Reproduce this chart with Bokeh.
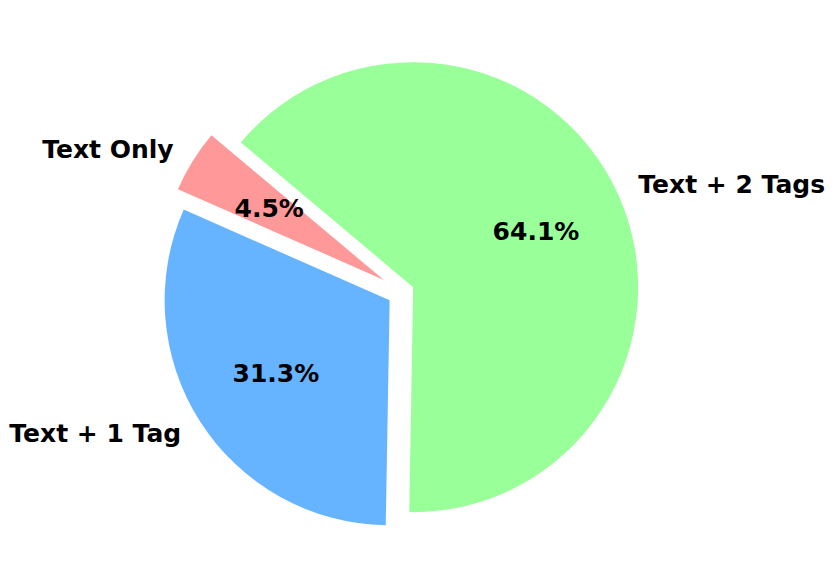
import numpy as np
from bokeh.plotting import figure
from bokeh.models import ColumnDataSource, Range1d
from bokeh.core.properties import value
from bokeh.embed import file_html
from bokeh.resources import INLINE

# --- data ---
labels = ["Text Only", "Text + 1 Tag", "Text + 2 Tags"]
percents = [4.5, 31.3, 64.1]
colors = ["#ff9999", "#66b3ff", "#99ff99"]
explode = [0.1, 0.07, 0.05]
start_deg = 140.0

vals = np.array(percents, dtype=float)
frac = vals / vals.sum()
ends = np.deg2rad(start_deg) + 2 * np.pi * np.cumsum(frac)
starts = np.concatenate([[np.deg2rad(start_deg)], ends[:-1]])
mids = (starts + ends) / 2
ex = np.array(explode)
cx = ex * np.cos(mids)
cy = ex * np.sin(mids)

src = ColumnDataSource(dict(cx=cx, cy=cy, start=starts, end=ends, color=colors))

lab_r = 1.1
lx = cx + lab_r * np.cos(mids)
ly = cy + lab_r * np.sin(mids)
pct_r = 0.6
px = cx + pct_r * np.cos(mids)
py = cy + pct_r * np.sin(mids)

W, H = 826, 567
scale = 225.0
ox, oy = 402.4, 291.3
p = figure(width=W, height=H, output_backend="svg", toolbar_location=None,
           x_range=Range1d(-ox / scale, (W - ox) / scale),
           y_range=Range1d(-(H - oy) / scale, oy / scale),
           x_axis_type=None, y_axis_type=None, min_border=0)
p.grid.visible = False
p.outline_line_color = None
p.background_fill_color = "white"

p.wedge(x="cx", y="cy", radius=1.0, start_angle="start", end_angle="end",
        fill_color="color", line_color=None, source=src)

left_idx = [i for i in range(3) if lx[i] < 0]
right_idx = [i for i in range(3) if lx[i] >= 0]
for idx, align in ((left_idx, "right"), (right_idx, "left")):
    if idx:
        p.text(x=[lx[i] for i in idx], y=[ly[i] for i in idx], text=[labels[i] for i in idx],
               text_align=align, text_baseline="middle", text_font=value("DejaVu Sans"),
               text_font_style="bold", text_font_size="25px", text_color="black")

p.text(x=list(px), y=list(py), text=[f"{v:.1f}%" for v in percents],
       text_align="center", text_baseline="middle", text_font=value("DejaVu Sans"),
       text_font_style="bold", text_font_size="25px", text_color="black")

open("out.html", "w").write(file_html(p, INLINE))
